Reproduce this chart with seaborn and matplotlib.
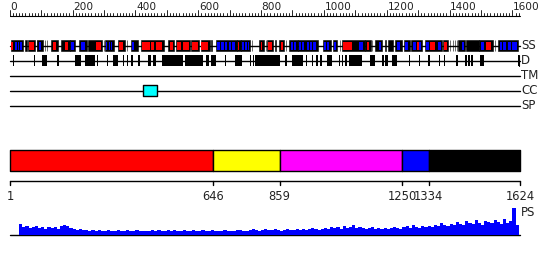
import matplotlib
matplotlib.use("Agg")
import matplotlib.pyplot as plt
import seaborn as sns
import numpy as np
import pandas as pd

sns.set_theme(style="white")
plt.rcParams["font.family"] = ["DejaVu Sans"]

# ---------------- data ----------------
LENGTH = 1624
ruler_labels = [0, 200, 400, 600, 800, 1000, 1200, 1400, 1600]

ss_blocks = [(3, 43), (50, 55), (58, 82), (86, 88), (88, 105), (111, 112), (118, 119),
             (132, 154), (164, 191), (192, 208), (221, 245), (249, 295), (300, 301),
             (302, 332), (345, 366), (372, 373), (385, 408), (417, 491), (504, 523),
             (528, 574), (578, 601), (608, 637), (642, 643), (656, 722), (722, 735),
             (735, 765), (770, 771), (794, 809), (816, 817), (820, 839), (845, 846),
             (858, 873), (879, 880), (890, 917), (917, 980), (996, 1022), (1028, 1041),
             (1051, 1052), (1057, 1132), (1132, 1149), (1153, 1154), (1162, 1185),
             (1195, 1196), (1204, 1219), (1227, 1248), (1254, 1275), (1278, 1312),
             (1323, 1376), (1378, 1395), (1401, 1402), (1410, 1411), (1416, 1417),
             (1422, 1423), (1427, 1450), (1453, 1495), (1495, 1538), (1545, 1546),
             (1554, 1617)]
ss_helix = [(4, 10), (62, 77), (137, 148), (175, 187), (275, 291), (347, 362), (420, 447),
            (451, 459), (465, 486), (510, 519), (533, 546), (550, 572), (580, 600),
            (610, 631), (726, 731), (799, 803), (822, 835), (862, 871), (1062, 1089),
            (1138, 1144), (1297, 1301), (1339, 1353), (1382, 1391), (1515, 1531)]
ss_strand = [(18, 22), (26, 30), (34, 38), (94, 101), (196, 204), (226, 241), (307, 311),
             (316, 320), (321, 327), (390, 396), (661, 669), (674, 682), (686, 693),
             (697, 703), (707, 717), (739, 746), (750, 754), (757, 762), (895, 901),
             (905, 911), (920, 926), (930, 937), (945, 951), (956, 962), (966, 975),
             (1000, 1007), (1011, 1017), (1032, 1037), (1111, 1125), (1175, 1181),
             (1233, 1243), (1257, 1268), (1282, 1293), (1303, 1310), (1325, 1334),
             (1363, 1372), (1439, 1446), (1499, 1508), (1559, 1567), (1571, 1580),
             (1586, 1594), (1599, 1607), (1609, 1616)]
disorder = [(3, 5), (10, 13), (76, 80), (103, 118), (152, 156), (209, 226), (241, 273),
            (277, 280), (311, 314), (330, 346), (360, 363), (372, 375), (387, 392),
            (409, 415), (440, 451), (456, 467), (485, 551), (557, 614), (625, 635),
            (641, 656), (686, 689), (716, 740), (764, 767), (773, 776), (780, 860),
            (877, 881), (898, 932), (942, 945), (962, 965), (975, 980), (988, 994),
            (1009, 1026), (1047, 1051), (1057, 1062), (1068, 1074), (1081, 1121),
            (1148, 1164), (1185, 1191), (1195, 1204), (1217, 1234), (1270, 1274),
            (1302, 1306), (1331, 1339), (1367, 1370), (1383, 1386), (1421, 1428),
            (1450, 1455), (1458, 1464), (1468, 1476), (1497, 1511), (1618, 1620)]
tm_regions = []
cc_regions = [(425, 468)]
sp_regions = []

domain_bounds = [1, 646, 859, 1250, 1334, 1624]
domain_colors = ["#ff0000", "#ffff00", "#ff00ff", "#0000ff", "#000000"]

ps_first = 30
ps_step = 10
ps_values = [11, 8, 9, 7, 8, 9, 7, 8, 6, 8,
             7, 8, 6, 9, 10, 9, 7, 6, 5, 6,
             5, 5, 4, 5, 4, 5, 4, 4, 5, 4,
             4, 5, 4, 4, 5, 4, 4, 5, 4, 4,
             4, 4, 5, 4, 5, 4, 4, 5, 4, 5,
             4, 4, 5, 4, 4, 5, 4, 4, 5, 4,
             4, 5, 4, 4, 4, 5, 4, 4, 4, 5,
             5, 4, 4, 5, 6, 5, 4, 5, 6, 5,
             5, 6, 5, 4, 5, 6, 5, 5, 6, 5,
             6, 5, 6, 7, 6, 5, 6, 7, 6, 8,
             7, 8, 6, 9, 7, 8, 10, 7, 8, 7,
             6, 7, 8, 6, 7, 6, 7, 6, 7, 8,
             7, 6, 8, 9, 7, 10, 8, 7, 9, 8,
             9, 8, 10, 9, 12, 10, 9, 11, 10, 13,
             11, 10, 14, 12, 11, 15, 12, 10, 14, 13,
             12, 15, 13, 11, 16, 12, 14, 27, 10]

# ---------------- layout ----------------
W, H = 550, 260
def res_at_px(px):
    return 1 + (px - 10) * (LENGTH - 1) / 510.0

XLIM = (res_at_px(0), res_at_px(W))
TXT = "#222222"

fig = plt.figure(figsize=(W / 100, H / 100), dpi=100)
ax = fig.add_axes([0, 0, 1, 1])
ax.set_xlim(*XLIM)
ax.set_ylim(H, 0)
ax.axis("off")

def spans(lst):
    return [(s, e - s) for s, e in lst]

# ruler
ax.plot([0, LENGTH], [16, 16], color="black", lw=0.8)
for t in range(0, LENGTH + 1, 10):
    top = 10 if t % 100 == 0 else 12.5
    ax.plot([t, t], [top, 16], color="black", lw=0.6)
for v in ruler_labels:
    ax.text(v + 2, 7, str(v), ha="left", va="center", fontsize=7.6, color=TXT)

# SS row
yc = 45.8
ax.plot([1, LENGTH], [yc, yc], color="black", lw=1.0, zorder=1)
ax.broken_barh(spans(ss_blocks), (40.3, 11), facecolors="black", edgecolors="black", lw=0.4, zorder=2)
ax.broken_barh(spans(ss_helix), (41.6, 8.4), facecolors="#ff0000", lw=0, zorder=3)
ax.broken_barh(spans(ss_strand), (41.6, 8.4), facecolors="#0000ff", lw=0, zorder=3)
ax.text(LENGTH + 3, yc, "SS", ha="left", va="center", fontsize=8.5, color=TXT)

# D row
yc = 60.6
ax.plot([1, LENGTH], [yc, yc], color="black", lw=1.0, zorder=1)
ax.broken_barh(spans(disorder), (55.2, 11), facecolors="black", lw=0, zorder=2)
ax.plot([LENGTH - 4, LENGTH - 4], [55.2, 66.2], color="black", lw=0.8)
ax.text(LENGTH + 3, yc, "D", ha="left", va="center", fontsize=8.5, color=TXT)

# TM / CC / SP
for name, yc, regs, col in [("TM", 75.5, tm_regions, "#00aa00"),
                            ("CC", 90.5, cc_regions, "#00ffff"),
                            ("SP", 105.5, sp_regions, "#ffa500")]:
    ax.plot([1, LENGTH], [yc, yc], color="black", lw=1.0, zorder=1)
    if regs:
        ax.broken_barh(spans(regs), (yc - 5.3, 10.6), facecolors=col,
                       edgecolors="black", lw=1.0, zorder=2)
    ax.text(LENGTH + 3, yc, name, ha="left", va="center", fontsize=8.5, color=TXT)

# domain bar
dom = [(domain_bounds[i], domain_bounds[i + 1] - domain_bounds[i]) for i in range(len(domain_colors))]
ax.broken_barh(dom, (150.3, 20.5), facecolors=domain_colors, edgecolors="black", lw=1.0)

# domain axis
ax.plot([1, LENGTH], [180.6, 180.6], color="black", lw=1.0)
for b in domain_bounds:
    ax.plot([b, b], [180.6, 185], color="black", lw=1.0)
    ax.text(b, 196, str(b), ha="center", va="center", fontsize=8.3, color=TXT)

# PS profile
ax.plot([1, LENGTH], [235.3, 235.3], color="black", lw=1.0)
ax.text(LENGTH + 3, 212, "PS", ha="left", va="center", fontsize=8.5, color=TXT)

ps_pos = np.arange(len(ps_values)) * ps_step + ps_first + ps_step / 2
ps_df = pd.DataFrame({"pos": ps_pos, "score": ps_values})
ax_ps = fig.add_axes([0, (H - 235.3) / H, 1, 30 / H])
ax_ps.patch.set_alpha(0)
sns.histplot(data=ps_df, x="pos", weights="score", binwidth=ps_step,
             binrange=(ps_first, ps_first + ps_step * len(ps_values)),
             element="step", fill=True, color="#0000ff", alpha=1, linewidth=0, ax=ax_ps)
ax_ps.set_xlim(*XLIM)
ax_ps.set_ylim(0, 30)
ax_ps.axis("off")

fig.savefig("out.png", dpi=100)
